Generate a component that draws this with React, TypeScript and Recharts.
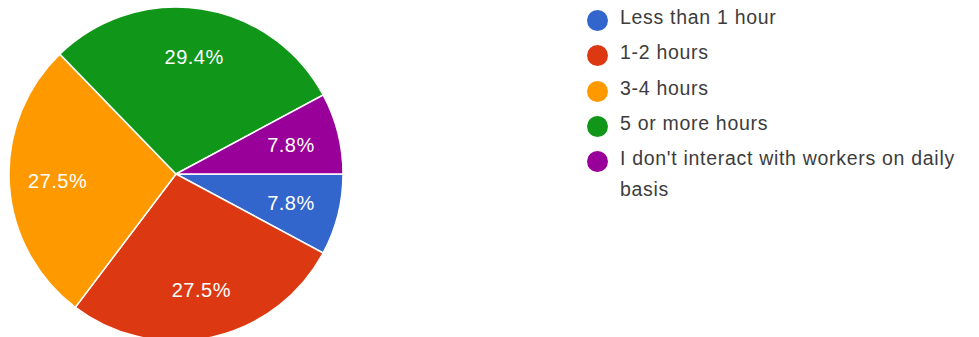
import React from "react";
import { PieChart, Pie, Cell, Legend } from "recharts";

const categories = [
  "Less than 1 hour",
  "1-2 hours",
  "3-4 hours",
  "5 or more hours",
  "I don't interact with workers on daily basis",
];
const responses = [4, 14, 14, 15, 4];
const colors = ["#3366cc", "#dc3912", "#ff9900", "#109618", "#990099"];

const data = categories.map((name, i) => ({ name, value: responses[i] }));
const total = responses.reduce((a, b) => a + b, 0);

const FONT = "'Liberation Sans', Arial, sans-serif";
const RAD = Math.PI / 180;

const renderLabel = (props: any) => {
  const { cx, cy, midAngle, outerRadius, value } = props;
  const r = outerRadius * 0.71;
  const x = cx + r * Math.cos(-midAngle * RAD);
  const y = cy + r * Math.sin(-midAngle * RAD);
  return (
    <text
      x={x}
      y={y}
      fill="#ffffff"
      textAnchor="middle"
      dominantBaseline="central"
      fontSize={20}
      letterSpacing={0.5}
      fontFamily={FONT}
    >
      {((value / total) * 100).toFixed(1)}%
    </text>
  );
};

const LegendList = () => (
  <div style={{ fontFamily: FONT, fontSize: 19.5, color: "#3c3c3c", letterSpacing: 0.7 }}>
    {data.map((d, i) => (
      <div
        key={d.name}
        style={{ display: "flex", alignItems: "flex-start", marginBottom: 7.3, lineHeight: "31px" }}
      >
        <span
          style={{
            width: 21,
            height: 21,
            borderRadius: "50%",
            background: colors[i],
            flex: "none",
            marginTop: 5,
            marginRight: 12,
          }}
        />
        <span style={{ width: 362, marginTop: -3 }}>{d.name}</span>
      </div>
    ))}
  </div>
);

export default function App() {
  return (
    <div style={{ position: "absolute", left: 0, top: 0, background: "#fff" }}>
      <PieChart width={979} height={337} margin={{ top: 0, right: 0, bottom: 0, left: 0 }}>
        <Pie
          data={data}
          dataKey="value"
          nameKey="name"
          cx={176}
          cy={174}
          outerRadius={167}
          startAngle={0}
          endAngle={-360}
          stroke="#ffffff"
          strokeWidth={1.5}
          label={renderLabel}
          labelLine={false}
          isAnimationActive={false}
        >
          {data.map((d, i) => (
            <Cell key={d.name} fill={colors[i]} />
          ))}
        </Pie>
        <Legend
          content={() => <LegendList />}
          wrapperStyle={{ left: 587, top: 5, width: 392 }}
        />
      </PieChart>
    </div>
  );
}
